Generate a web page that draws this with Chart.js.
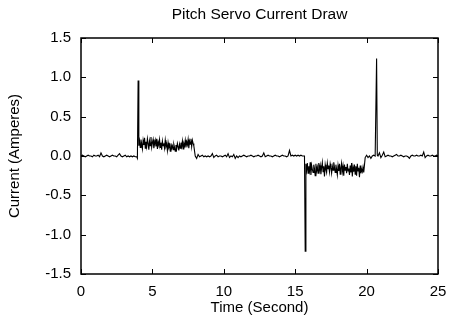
<!DOCTYPE html>
<html>
<head>
<meta charset="utf-8">
<script src="https://cdn.jsdelivr.net/npm/chart.js@4/dist/chart.umd.min.js"></script>
<style>
  body { margin: 0; background: #fff; }
</style>
</head>
<body>
<canvas id="servoChart" width="450" height="325"></canvas>
<script>
// current (A); idle parts every 0.1 s, motor runs and spikes every 0.05 s
const idleStart = [0.00, 0.01, 0.00, -0.01, 0.00, 0.01, 0.00, 0.00, -0.01, 0.01,
  0.00, 0.00, 0.01, -0.01, 0.04, 0.00, -0.01, 0.00, 0.01, 0.00,
  -0.01, 0.00, 0.01, 0.00, 0.00, -0.01, 0.01, 0.03, 0.00, -0.01,
  0.00, 0.01, -0.01, 0.00, -0.01, 0.00, -0.01, 0.00, -0.01];
const forwardSpike = [-0.01, -0.03, 0.96];
const forwardRun = [0.13, 0.19, 0.11, 0.21, 0.15, 0.09, 0.20, 0.14, 0.23, 0.10,
  0.18, 0.12, 0.22, 0.16, 0.08, 0.19, 0.13, 0.24, 0.11, 0.17,
  0.21, 0.10, 0.15, 0.20, 0.12, 0.22, 0.09, 0.18, 0.14, 0.21,
  0.11, 0.17, 0.08, 0.19, 0.13, 0.16, 0.10, 0.20, 0.12, 0.15,
  0.07, 0.17, 0.11, 0.14, 0.06, 0.16, 0.10, 0.13, 0.08, 0.15,
  0.11, 0.06, 0.14, 0.09, 0.16, 0.12, 0.07, 0.15, 0.10, 0.17,
  0.12, 0.19, 0.09, 0.16, 0.13, 0.20, 0.11, 0.18, 0.14, 0.21,
  0.10, 0.19, 0.15, 0.22, 0.12, 0.20, 0.16, 0.13];
const idleMiddle = [0.00, -0.03, 0.02, -0.01, 0.00, 0.01, -0.01, 0.00, -0.01, 0.00,
  -0.01, 0.00, 0.03, -0.02, 0.00, 0.01, -0.01, 0.00, 0.00, -0.01,
  0.00, 0.01, -0.01, 0.03, -0.02, 0.00, -0.01, 0.02, -0.03, 0.00,
  -0.02, 0.00, -0.01, 0.00, 0.01, 0.00, -0.01, 0.00, 0.00, 0.01,
  0.00, -0.01, 0.00, 0.00, 0.01, 0.00, -0.01, 0.00, 0.04, -0.01,
  0.00, 0.01, 0.00, 0.00, -0.01, 0.00, 0.01, 0.00, 0.00, -0.01,
  0.00, 0.01, 0.00, 0.00, -0.01, 0.00, 0.07, 0.00, 0.01, 0.00,
  0.01, 0.00, 0.01, 0.00, 0.01, 0.00, 0.00];
const reverseSpike = [0.00, -1.21];
const reverseRun = [-0.10, -0.18, -0.09, -0.22, -0.13, -0.19, -0.08, -0.24, -0.12, -0.17,
  -0.21, -0.11, -0.16, -0.25, -0.10, -0.19, -0.14, -0.22, -0.09, -0.18,
  -0.12, -0.23, -0.15, -0.08, -0.20, -0.13, -0.26, -0.11, -0.17, -0.21,
  -0.09, -0.16, -0.12, -0.20, -0.10, -0.15, -0.22, -0.13, -0.18, -0.08,
  -0.14, -0.21, -0.11, -0.17, -0.24, -0.12, -0.19, -0.10, -0.23, -0.15,
  -0.09, -0.20, -0.13, -0.25, -0.11, -0.18, -0.14, -0.22, -0.10, -0.19,
  -0.16, -0.24, -0.12, -0.21, -0.09, -0.26, -0.14, -0.20, -0.11, -0.23,
  -0.13, -0.25, -0.10, -0.19, -0.15, -0.27, -0.12, -0.22, -0.17, -0.20,
  -0.14, -0.21];
const settle = [-0.02, 0.01, -0.02, 0.00, -0.03, 0.00, 0.01, 0.00];
const returnSpike = [0.00, 1.24, 0.01];
const idleEnd = [0.00, 0.04, -0.02, 0.01, 0.05, -0.01, 0.00, 0.01, 0.00, 0.00,
  -0.01, 0.00, 0.01, 0.02, 0.00, 0.00, 0.01, 0.00, -0.01, 0.00,
  0.00, -0.01, -0.03, 0.00, 0.01, 0.00, 0.00, 0.01, 0.00, 0.00,
  0.01, 0.00, 0.05, -0.02, 0.00, 0.01, 0.00, 0.00, 0.01, 0.00,
  0.00, 0.01, 0.00];

// [start time (s), sample step (s), values]
const segments = [
  [0.0, 0.1, idleStart],
  [3.9, 0.05, forwardSpike],
  [4.05, 0.05, forwardRun],
  [8.0, 0.1, idleMiddle],
  [15.65, 0.05, reverseSpike],
  [15.75, 0.05, reverseRun],
  [19.9, 0.1, settle],
  [20.65, 0.05, returnSpike],
  [20.8, 0.1, idleEnd],
];

const xTicks = [0, 5, 10, 15, 20, 25];
const yTicks = [-1.5, -1.0, -0.5, 0.0, 0.5, 1.0, 1.5];

const points = [];
segments.forEach(([start, step, vals]) => {
  vals.forEach((v, i) => points.push({ x: +(start + i * step).toFixed(2), y: v }));
});

Chart.defaults.font.family = "'Liberation Sans', Helvetica, Arial, sans-serif";
Chart.defaults.font.size = 15;
Chart.defaults.color = "#000";

// gnuplot style box with inward ticks on all four sides
const frame = {
  id: "frame",
  afterDatasetsDraw(chart) {
    const { ctx, chartArea: a, scales } = chart;
    const len = 5;
    ctx.save();
    ctx.strokeStyle = "#000";
    ctx.lineWidth = 1.5;
    ctx.strokeRect(a.left, a.top, a.right - a.left, a.bottom - a.top);
    ctx.lineWidth = 1;
    ctx.beginPath();
    xTicks.forEach((t) => {
      const px = Math.round(scales.x.getPixelForValue(t)) + 0.5;
      ctx.moveTo(px, a.bottom); ctx.lineTo(px, a.bottom - len);
      ctx.moveTo(px, a.top); ctx.lineTo(px, a.top + len);
    });
    yTicks.forEach((t) => {
      const py = Math.round(scales.y.getPixelForValue(t)) + 0.5;
      ctx.moveTo(a.left, py); ctx.lineTo(a.left + len, py);
      ctx.moveTo(a.right, py); ctx.lineTo(a.right - len, py);
    });
    ctx.stroke();
    ctx.restore();
  },
};

new Chart(document.getElementById("servoChart").getContext("2d"), {
  type: "line",
  data: {
    datasets: [
      {
        label: "Current",
        data: points,
        borderColor: "#000",
        borderWidth: 1.1,
        pointRadius: 0,
        tension: 0,
        fill: false,
      },
    ],
  },
  options: {
    responsive: false,
    animation: false,
    layout: { padding: { left: 0, right: 12, top: 0, bottom: 0 } },
    plugins: {
      legend: { display: false },
      tooltip: { enabled: false },
      title: {
        display: true,
        text: "Pitch Servo Current Draw",
        fullSize: false,
        font: { size: 15.5, weight: "normal" },
        padding: { top: 5, bottom: 14.4 },
      },
    },
    scales: {
      x: {
        type: "linear",
        min: 0,
        max: 25,
        grid: { display: false, drawTicks: false },
        border: { display: false },
        ticks: { stepSize: 5, padding: 8.5, maxRotation: 0 },
        title: { display: true, text: "Time (Second)", padding: { top: 0, bottom: 8.5 } },
        afterFit: (s) => { s.height = 51; s.paddingLeft = 0; s.paddingRight = 0; },
      },
      y: {
        min: -1.5,
        max: 1.5,
        grid: { display: false, drawTicks: false },
        border: { display: false },
        ticks: { stepSize: 0.5, padding: 10, callback: (v) => v.toFixed(1) },
        title: { display: true, text: "Current (Amperes)", padding: { top: 6, bottom: 0 } },
        afterFit: (s) => { s.width = 81; },
      },
    },
  },
  plugins: [frame],
});
</script>
</body>
</html>
